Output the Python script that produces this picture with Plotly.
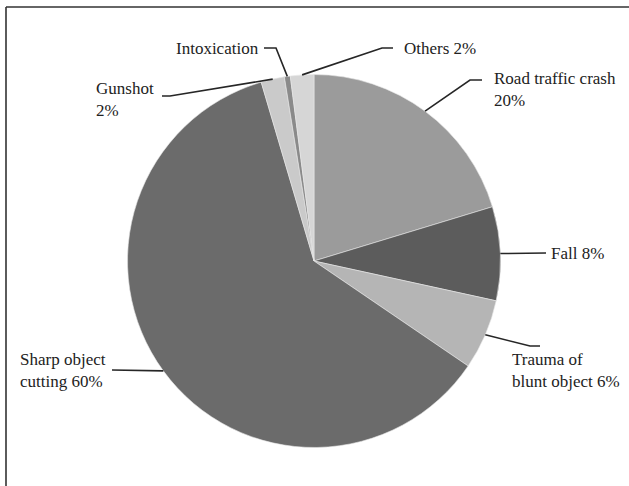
import math
import plotly.graph_objects as go

# Causes of injury (percent), clockwise from 12 o'clock
causes = ["Road traffic crash", "Fall", "Trauma of blunt object",
          "Sharp object cutting", "Gunshot", "Intoxication", "Others"]
shares = [20, 8, 6, 60, 2, 0.5, 2]
label_texts = ["Road traffic crash<br>20%", "Fall 8%", "Trauma of<br>blunt object 6%",
               "Sharp object<br>cutting 60%", "Gunshot<br>2%", "Intoxication", "Others 2%"]
slice_colors = ["#9b9b9b", "#5c5c5c", "#b5b5b5", "#6b6b6b", "#cacaca", "#8a8a8a", "#d6d6d6"]

W, H = 629, 486
CX, CY, R = 314, 261, 186.5  # pie centre and radius in pixels


def px(x):
    return x / W


def py(y):
    return 1 - y / H


fig = go.Figure(go.Pie(
    labels=causes,
    values=shares,
    sort=False,
    direction="clockwise",
    rotation=0,
    textinfo="none",
    hoverinfo="label+percent",
    marker=dict(colors=slice_colors, line=dict(color="#e8e8e8", width=0.6)),
    domain=dict(x=[px(CX - R), px(CX + R)], y=[py(CY + R), py(CY - R)]),
    showlegend=False,
))

# rim point at the middle of each slice
total = sum(shares)
rim = []
acc = 0.0
for v in shares:
    mid = (acc + v / 2) / total * 2 * math.pi
    rim.append((CX + R * math.sin(mid), CY - R * math.cos(mid)))
    acc += v

# per label: elbow point, end of leader, text anchor point, anchor side
label_layout = {
    "Road traffic crash": ((470, 80), (482, 80), (492, 90), "left"),
    "Fall": ((546, 253), (546, 253), (549, 253), "left"),
    "Trauma of blunt object": ((530, 346), (540, 346), (510, 370), "left"),
    "Sharp object cutting": ((112, 370), (112, 370), (108, 370), "right"),
    "Gunshot": ((170, 96), (162, 96), (156, 100), "right"),
    "Intoxication": ((276, 48), (264, 48), (261, 48), "right"),
    "Others": ((382, 48), (393, 48), (402, 48), "left"),
}

shapes = []
annotations = []
for name, text, (rx, ry) in zip(causes, label_texts, rim):
    (ex, ey), (hx, hy), (tx, ty), side = label_layout[name]
    shapes.append(dict(
        type="path", xref="paper", yref="paper",
        path=f"M {px(rx)},{py(ry)} L {px(ex)},{py(ey)} L {px(hx)},{py(hy)}",
        line=dict(color="#262626", width=1.6),
    ))
    annotations.append(dict(
        x=px(tx), y=py(ty), xref="paper", yref="paper",
        text=text, showarrow=False, align="left",
        xanchor=side, yanchor="middle",
        font=dict(family="Liberation Serif, Times New Roman, serif", size=17, color="#222222"),
    ))

# frame lines along the top and left edges
shapes.append(dict(type="line", xref="paper", yref="paper",
                   x0=px(6), y0=py(7), x1=1.0, y1=py(7),
                   line=dict(color="#333333", width=1.6)))
shapes.append(dict(type="line", xref="paper", yref="paper",
                   x0=px(6), y0=py(7), x1=px(6), y1=0.0,
                   line=dict(color="#333333", width=1.6)))

fig.update_layout(
    width=W, height=H,
    margin=dict(l=0, r=0, t=0, b=0),
    paper_bgcolor="white",
    plot_bgcolor="white",
    shapes=shapes,
    annotations=annotations,
)

fig.write_html("out.html")
